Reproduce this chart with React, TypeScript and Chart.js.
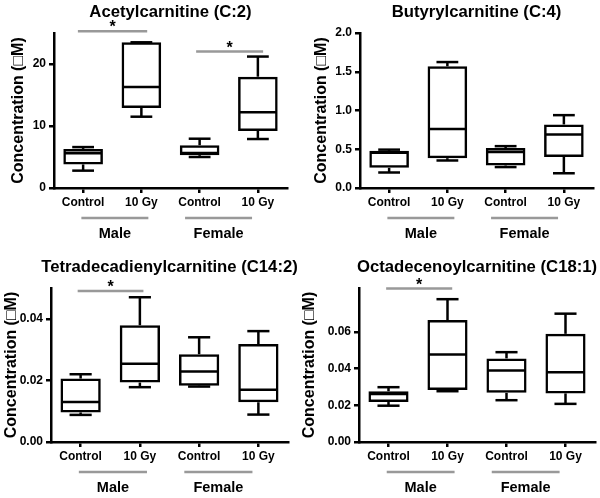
import React, { useEffect, useRef } from "react";
import { Chart, registerables } from "chart.js";

Chart.register(...registerables);

const FONT = "'Liberation Sans', Arial, Helvetica, sans-serif";

// ---------- data ----------
const categories = ["Control", "10 Gy", "Control", "10 Gy"];
const groupLabels = ["Male", "Female"];
const groupStart = [-0.03, 1.75];
const groupEnd = [1.12, 2.9];
const yTitle = "Concentration (\u25A1M)";

const panelTitles = [
  "Acetylcarnitine (C:2)",
  "Butyrylcarnitine (C:4)",
  "Tetradecadienylcarnitine (C14:2)",
  "Octadecenoylcarnitine (C18:1)",
];

// Acetylcarnitine (C:2)
const acetylMin = [2.8, 11.5, 5.0, 7.9];
const acetylQ1 = [3.8, 12.9, 5.3, 9.2];
const acetylMedian = [5.6, 16.3, 5.65, 12.2];
const acetylQ3 = [6.3, 23.5, 6.9, 17.95];
const acetylMax = [6.6, 23.5, 7.95, 21.2];

// Butyrylcarnitine (C:4)
const butyrylMin = [0.2, 0.355, 0.27, 0.19];
const butyrylQ1 = [0.26, 0.385, 0.29, 0.4];
const butyrylMedian = [0.455, 0.76, 0.465, 0.69];
const butyrylQ3 = [0.48, 1.57, 0.515, 0.82];
const butyrylMax = [0.495, 1.625, 0.54, 0.94];

// Tetradecadienylcarnitine (C14:2)
const tetraMin = [0.0088, 0.0178, 0.018, 0.0089];
const tetraQ1 = [0.0096, 0.0193, 0.0183, 0.0129];
const tetraMedian = [0.013, 0.0254, 0.0229, 0.017];
const tetraQ3 = [0.0206, 0.0379, 0.0285, 0.0318];
const tetraMax = [0.022, 0.047, 0.034, 0.036];

// Octadecenoylcarnitine (C18:1)
const octaMin = [0.0198, 0.0277, 0.0228, 0.0208];
const octaQ1 = [0.0218, 0.0283, 0.0268, 0.0265];
const octaMedian = [0.0262, 0.0477, 0.039, 0.038];
const octaQ3 = [0.0277, 0.0665, 0.0456, 0.059];
const octaMax = [0.0299, 0.0779, 0.049, 0.07];

// y axes
const yMaxes = [25, 2, 0.05, 0.084];
const ySteps = [10, 0.5, 0.02, 0.02];
const yDecimals = [0, 1, 2, 2];

// significance bars
const sigPanel = [0, 0, 2, 3];
const sigFrom = [-0.09, 1.94, -0.05, -0.04];
const sigTo = [1.1, 3.09, 1.06, 1.08];
const sigLevel = [25.27, 22.0, 0.049, 0.0837];

const STATS = [
  { min: acetylMin, q1: acetylQ1, med: acetylMedian, q3: acetylQ3, max: acetylMax },
  { min: butyrylMin, q1: butyrylQ1, med: butyrylMedian, q3: butyrylQ3, max: butyrylMax },
  { min: tetraMin, q1: tetraQ1, med: tetraMedian, q3: tetraQ3, max: tetraMax },
  { min: octaMin, q1: octaQ1, med: octaMedian, q3: octaQ3, max: octaMax },
];

// ---------- layout (panel positions / plot areas) ----------
const PW = 300;
const PH = 249;
const LW = 2.5;
const LAYOUT = [
  { x: 0, y: 0, left: 54, top: 33, right: 287, bottom: 188, titlePad: 8.5 },
  { x: 300, y: 0, left: 60, top: 33, right: 293, bottom: 188, titlePad: 12 },
  { x: 0, y: 249, left: 51, top: 39, right: 288, bottom: 193, titlePad: 1.5 },
  { x: 300, y: 249, left: 59, top: 39, right: 295, bottom: 193, titlePad: 0 },
];

function line(ctx: CanvasRenderingContext2D, x0: number, y0: number, x1: number, y1: number) {
  ctx.beginPath();
  ctx.moveTo(x0, y0);
  ctx.lineTo(x1, y1);
  ctx.stroke();
}

function makeBoxPlugin(idx: number) {
  const s = STATS[idx];
  return {
    id: "boxWhiskers" + idx,
    afterDatasetsDraw(chart: any) {
      const ctx: CanvasRenderingContext2D = chart.ctx;
      const ys = chart.scales.y;
      const meta = chart.getDatasetMeta(0);
      ctx.save();
      ctx.strokeStyle = "#000";
      ctx.lineWidth = LW;
      ctx.lineCap = "butt";
      meta.data.forEach((bar: any, i: number) => {
        const { x, width } = bar.getProps(["x", "width"], true);
        const half = width / 2 - 1;
        const cap = width / 4 + 1;
        const yMin = ys.getPixelForValue(s.min[i]);
        const yQ1 = ys.getPixelForValue(s.q1[i]);
        const yMed = ys.getPixelForValue(s.med[i]);
        const yQ3 = ys.getPixelForValue(s.q3[i]);
        const yMax = ys.getPixelForValue(s.max[i]);
        line(ctx, x - half, yMed, x + half, yMed);
        line(ctx, x, yQ3, x, yMax);
        line(ctx, x - cap, yMax, x + cap, yMax);
        line(ctx, x, yQ1, x, yMin);
        line(ctx, x - cap, yMin, x + cap, yMin);
      });
      ctx.restore();
    },
  };
}

function makeAnnotPlugin(idx: number) {
  return {
    id: "annot" + idx,
    afterDraw(chart: any) {
      const ctx: CanvasRenderingContext2D = chart.ctx;
      const ca = chart.chartArea;
      const xs = chart.scales.x;
      const ys = chart.scales.y;
      ctx.save();
      ctx.fillStyle = "#000";
      ctx.textAlign = "center";
      ctx.textBaseline = "middle";
      ctx.font = `bold 16.7px ${FONT}`;
      ctx.fillText(panelTitles[idx], (ca.left + ca.right) / 2, ca.top - 21);

      ctx.strokeStyle = "#999";
      ctx.lineWidth = 2.5;
      groupLabels.forEach((g, k) => {
        const x0 = xs.getPixelForValue(groupStart[k]);
        const x1 = xs.getPixelForValue(groupEnd[k]);
        line(ctx, x0, ca.bottom + 30, x1, ca.bottom + 30);
        ctx.font = `bold 14.5px ${FONT}`;
        ctx.fillText(g, (x0 + x1) / 2, ca.bottom + 46);
      });

      sigPanel.forEach((p, k) => {
        if (p !== idx) return;
        const x0 = xs.getPixelForValue(sigFrom[k]);
        const x1 = xs.getPixelForValue(sigTo[k]);
        const yy = ys.getPixelForValue(sigLevel[k]);
        ctx.strokeStyle = "#999";
        ctx.lineWidth = 2.5;
        line(ctx, x0, yy, x1, yy);
        ctx.font = `bold 16px ${FONT}`;
        ctx.textBaseline = "alphabetic";
        ctx.fillText("*", (x0 + x1) / 2, yy + 1);
        ctx.textBaseline = "middle";
      });
      ctx.restore();
    },
  };
}

function Panel({ idx }: { idx: number }) {
  const ref = useRef<HTMLCanvasElement>(null);
  const L = LAYOUT[idx];
  useEffect(() => {
    const s = STATS[idx];
    const step = ySteps[idx];
    const dec = yDecimals[idx];
    const tickFont = { family: FONT, size: 12, weight: "bold" as const };
    const chart = new Chart(ref.current as HTMLCanvasElement, {
      type: "bar",
      data: {
        labels: categories,
        datasets: [
          {
            data: s.q1.map((v, i) => [v, s.q3[i]]) as any,
            backgroundColor: "rgba(255,255,255,0)",
            borderColor: "#000",
            borderWidth: LW,
            borderSkipped: false,
            barPercentage: 0.68,
            categoryPercentage: 1,
          },
        ],
      },
      options: {
        responsive: false,
        animation: false,
        events: [],
        layout: { padding: { top: L.top, right: PW - L.right, left: 0, bottom: 0 } },
        plugins: {
          legend: { display: false },
          tooltip: { enabled: false },
          title: { display: false },
        },
        scales: {
          x: {
            grid: {
              display: true,
              drawOnChartArea: false,
              offset: false,
              tickLength: 5,
              color: "#000",
              lineWidth: LW,
            },
            border: { display: true, color: "#000", width: LW },
            ticks: { color: "#000", font: tickFont, padding: 2, maxRotation: 0, autoSkip: false },
            afterFit: (sc: any) => {
              sc.height = PH - L.bottom;
            },
          },
          y: {
            min: 0,
            max: yMaxes[idx],
            ticks: {
              stepSize: step,
              color: "#000",
              font: tickFont,
              padding: 3,
              callback: (v: any) => Number(v).toFixed(dec),
            },
            afterBuildTicks: (axis: any) => {
              axis.ticks = axis.ticks.filter(
                (t: any) => Math.abs(t.value / step - Math.round(t.value / step)) < 1e-6
              );
            },
            grid: {
              display: true,
              drawOnChartArea: false,
              tickLength: 5,
              color: "#000",
              lineWidth: LW,
            },
            border: { display: true, color: "#000", width: LW },
            title: {
              display: true,
              text: yTitle,
              color: "#000",
              font: { family: FONT, size: 16, weight: "bold" },
              padding: { top: L.titlePad, bottom: 0 },
            },
            afterFit: (sc: any) => {
              sc.width = L.left;
            },
          },
        },
      },
      plugins: [makeBoxPlugin(idx), makeAnnotPlugin(idx)],
    });
    return () => chart.destroy();
  }, [idx]);
  return (
    <canvas
      ref={ref}
      width={PW}
      height={PH}
      style={{ position: "absolute", left: L.x, top: L.y, width: PW, height: PH }}
    />
  );
}

export default function App() {
  return (
    <div
      style={{
        position: "absolute",
        left: 0,
        top: 0,
        width: 600,
        height: 498,
        background: "#fff",
        overflow: "hidden",
      }}
    >
      {[0, 1, 2, 3].map((i) => (
        <Panel key={i} idx={i} />
      ))}
    </div>
  );
}
